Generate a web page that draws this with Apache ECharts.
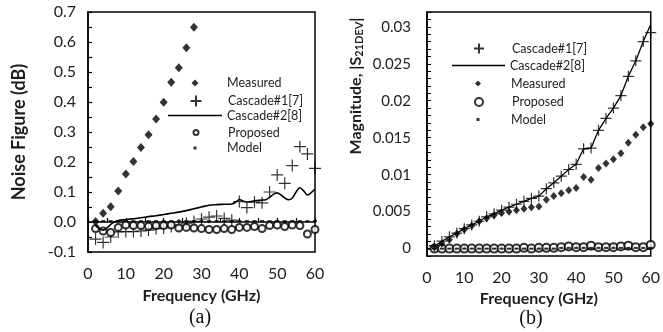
<!DOCTYPE html>
<html>
<head>
<meta charset="utf-8">
<script src="https://cdn.jsdelivr.net/npm/echarts@6/dist/echarts.min.js"></script>
<style>
html,body{margin:0;padding:0;background:#fff;}
#chart{width:663px;height:332px;}
</style>
</head>
<body>
<div id="chart"></div>
<script>
// ---------- Data: panel (a) Noise Figure (dB) ----------
var freqA = [2,4,6,8,10,12,14,16,18,20,22,24,26,28,30,32,34,36,38,40,42,44,46,48,50,52,54,56,58,60];
var measuredAFreq = [2,4,6,8,10,12,14,16,18,20,22,24,26,28];
var measuredA = [0.002,0.029,0.051,0.103,0.160,0.202,0.248,0.291,0.343,0.399,0.466,0.514,0.581,0.649];
var cascade1A = [-0.057,-0.068,-0.050,-0.033,-0.032,-0.032,-0.030,-0.027,-0.022,-0.020,-0.015,-0.010,-0.004,0.002,0.010,0.016,0.020,0.012,0.006,0.068,0.048,0.066,0.064,0.100,0.157,0.129,0.188,0.251,0.227,0.179];
var cascade2AFreq = [2,3,4,5,6,7,8,10,12,14,16,18,20,22,24,26,28,30,32,34,36,38,39,40,41,42,43,44,45,46,47,48,49,50,51,52,53,54,55,56,57,58,59,60];
var cascade2A = [-0.012,-0.022,-0.027,-0.020,-0.008,0.000,0.005,0.008,0.011,0.014,0.018,0.021,0.025,0.029,0.033,0.038,0.044,0.050,0.056,0.058,0.059,0.060,0.066,0.075,0.070,0.066,0.068,0.071,0.072,0.073,0.074,0.082,0.092,0.097,0.090,0.080,0.074,0.080,0.100,0.114,0.104,0.090,0.098,0.110];
var proposedA = [-0.022,-0.030,-0.035,-0.018,-0.010,-0.012,-0.012,-0.014,-0.012,-0.012,-0.010,-0.020,-0.018,-0.020,-0.022,-0.025,-0.025,-0.022,-0.025,-0.018,-0.018,-0.015,-0.022,-0.012,-0.010,-0.015,-0.010,-0.012,-0.040,-0.025];
var modelA = [0.003,0.003,0.003,0.003,0.003,0.003,0.003,0.003,0.003,0.003,0.003,0.003,0.003,0.003,0.003,0.003,0.003,0.003,0.003,0.003,0.003,0.003,0.003,0.003,0.003,0.003,0.003,0.003,0.003,0.003];

// ---------- Data: panel (b) Magnitude |S21DEV| ----------
var freqB = [2,4,6,8,10,12,14,16,18,20,22,24,26,28,30,32,34,36,38,40,42,44,46,48,50,52,54,56,58,60];
var cascade1B = [0.0004,0.0010,0.0016,0.0021,0.0027,0.0032,0.0037,0.0043,0.0047,0.0052,0.0056,0.0060,0.0064,0.0068,0.0071,0.0081,0.0089,0.0098,0.0107,0.0114,0.0135,0.0136,0.0160,0.0176,0.0190,0.0207,0.0233,0.0254,0.0280,0.0292];
var cascade2B = [0.0003,0.0010,0.0016,0.0021,0.0027,0.0032,0.0037,0.0043,0.0047,0.0052,0.0056,0.0060,0.0064,0.0068,0.0071,0.0081,0.0089,0.0098,0.0107,0.0114,0.0135,0.0136,0.0160,0.0176,0.0190,0.0207,0.0233,0.0254,0.0280,0.0303];
var measuredB = [0.0002,0.0007,0.0012,0.0020,0.0026,0.0031,0.0037,0.0041,0.0045,0.0048,0.0050,0.0052,0.0054,0.0056,0.0057,0.0066,0.0071,0.0075,0.0079,0.0082,0.0097,0.0093,0.0109,0.0115,0.0121,0.0129,0.0143,0.0154,0.0164,0.0169];
var proposedB = [0.0000,0.0000,0.0000,0.0000,0.0000,0.0000,0.0000,0.0000,0.0000,0.0000,0.0000,0.0000,0.0001,0.0000,0.0001,0.0001,0.0001,0.0002,0.0003,0.0002,0.0002,0.0004,0.0002,0.0002,0.0002,0.0003,0.0004,0.0002,0.0002,0.0005];
var modelB = [0.0000,0.0000,0.0000,0.0000,0.0000,0.0000,0.0000,0.0000,0.0000,0.0000,0.0000,0.0000,0.0000,0.0000,0.0000,0.0000,0.0000,0.0001,0.0001,0.0001,0.0001,0.0001,0.0001,0.0001,0.0001,0.0001,0.0001,0.0001,0.0001,0.0001];

// tick label values
var yTicksA = [-0.1,0.0,0.1,0.2,0.3,0.4,0.5,0.6,0.7];
var yTicksB = [0,0.005,0.01,0.015,0.02,0.025,0.03];
var xTicks = [0,10,20,30,40,50,60];

function pairs(xs, ys){ return ys.map(function(y,i){ return [xs[i], y]; }); }

var FONT = 'Lato';
var TXT = '#1e1e1e';
var CROSS = 'path://M0,5L10,5M5,0L5,10';
var TICKFS = 16;
var NAMEFS = 16;
var LEG_LH = 14;

function isTick(list, v){
  for (var i=0;i<list.length;i++){ if (Math.abs(list[i]-v) < 1e-9) return true; }
  return false;
}

var axisLineStyle = {lineStyle:{color:'#000', width:1.5}};

var chart = echarts.init(document.getElementById('chart'));

function markerLegend(name, cx, cy, size, textStart){
  return {
    data:[name], left: cx - size/2, top: cy - Math.max(size, LEG_LH)/2,
    itemWidth: size, itemHeight: size, padding: 0, selectedMode: false,
    textStyle:{fontFamily:FONT, fontSize:12.5, lineHeight:LEG_LH, color:TXT,
      padding:[0,0,0, textStart - (cx + size/2 + 5)]}
  };
}
function lineLegend(name, x0, w, cy){
  return {
    data:[{name:name, icon:'rect'}], left: x0, top: cy - (LEG_LH + 3)/2 - 1,
    itemWidth: w, itemHeight: 1.5, padding: 0, selectedMode: false,
    textStyle:{fontFamily:FONT, fontSize:12.5, lineHeight:LEG_LH, color:TXT, padding:[3,0,0,0]}
  };
}

var option = {
  animation: false,
  backgroundColor: '#fff',
  title: [
    {text:'(a)', left:200, top:308, textAlign:'center', padding:0,
     textStyle:{fontFamily:'Liberation Serif', fontWeight:'normal', fontSize:20, color:'#111'}},
    {text:'(b)', left:531, top:309, textAlign:'center', padding:0,
     textStyle:{fontFamily:'Liberation Serif', fontWeight:'normal', fontSize:20, color:'#111'}}
  ],
  legend: [
    markerLegend('Measured', 195, 83, 7, 227),
    markerLegend('Cascade#1[7]', 195, 101, 11, 227),
    lineLegend('Cascade#2[8]', 168, 54, 116.5),
    markerLegend('Proposed', 195, 132.5, 5, 227),
    markerLegend('Model', 195, 148, 3, 227),

    markerLegend('Cascade#1[7]', 478, 48.5, 10, 511),
    lineLegend('Cascade#2[8]', 452, 53, 66.5),
    markerLegend('Measured', 478, 83.5, 6, 511),
    markerLegend('Proposed', 478, 102, 8, 511),
    markerLegend('Model', 478, 119.5, 3, 511)
  ],
  grid: [
    {left:88, top:12, width:227, height:240, show:true, borderColor:'#000', borderWidth:1.5},
    {left:427, top:12, width:227, height:244, show:true, borderColor:'#000', borderWidth:1.5}
  ],
  xAxis: [
    {gridIndex:0, type:'value', min:0, max:60, interval:5,
     axisLine:axisLineStyle, splitLine:{show:false},
     axisTick:{inside:true, length:4, lineStyle:{color:'#000', width:1.2}},
     axisLabel:{fontFamily:FONT, fontSize:TICKFS, color:TXT, margin:14,
       formatter:function(v){ return isTick(xTicks, v) ? String(v) : ''; }},
     name:'Frequency (GHz)', nameLocation:'middle', nameGap:36,
     nameTextStyle:{fontFamily:FONT, fontWeight:'bold', fontSize:NAMEFS, color:TXT}},
    {gridIndex:1, type:'value', min:0, max:60, interval:10,
     axisLine:axisLineStyle, splitLine:{show:false},
     axisTick:{inside:true, length:4, lineStyle:{color:'#000', width:1.2}},
     axisLabel:{fontFamily:FONT, fontSize:TICKFS, color:TXT, margin:14,
       formatter:function(v){ return isTick(xTicks, v) ? String(v) : ''; }},
     name:'Frequency (GHz)', nameLocation:'middle', nameGap:34,
     nameTextStyle:{fontFamily:FONT, fontWeight:'bold', fontSize:NAMEFS, color:TXT}}
  ],
  yAxis: [
    {gridIndex:0, type:'value', min:-0.1, max:0.7, interval:0.05,
     axisLine:axisLineStyle, splitLine:{show:false},
     axisTick:{inside:true, length:4, lineStyle:{color:'#000', width:1.2}},
     axisLabel:{fontFamily:FONT, fontSize:TICKFS, color:TXT, margin:12,
       formatter:function(v){ return isTick(yTicksA, v) ? v.toFixed(1) : ''; }},
     name:'Noise Figure (dB)', nameLocation:'middle', nameGap:60,
     nameTextStyle:{fontFamily:FONT, fontWeight:'bold', fontSize:18, color:TXT}},
    {gridIndex:1, type:'value', min:-0.001, max:0.032, interval:0.001,
     axisLine:axisLineStyle, splitLine:{show:false},
     axisTick:{inside:true, length:4, lineStyle:{color:'#000', width:1}},
     axisLabel:{fontFamily:FONT, fontSize:TICKFS - 1, color:TXT, margin:16,
       formatter:function(v){ return isTick(yTicksB, v) ? String(Math.round(v*1000)/1000) : ''; }},
     name:'{n|Magnitude, |S}{s|21DEV}{n||}', nameLocation:'middle', nameGap:62,
     nameTextStyle:{padding:[0,0,0,96], rich:{
       n:{fontFamily:FONT, fontWeight:'bold', fontSize:NAMEFS, color:TXT, lineHeight:19},
       s:{fontFamily:FONT, fontWeight:'bold', fontSize:11, color:TXT, lineHeight:12, verticalAlign:'bottom'}
     }}}
  ],
  series: [
    {name:'Measured', type:'scatter', xAxisIndex:0, yAxisIndex:0, symbol:'diamond', symbolSize:[8,9],
     itemStyle:{color:'#000'}, data:pairs(measuredAFreq, measuredA)},
    {name:'Cascade#1[7]', type:'scatter', xAxisIndex:0, yAxisIndex:0, symbol:CROSS, symbolSize:12,
     itemStyle:{color:'rgba(0,0,0,0)', borderColor:'#000', borderWidth:1.2}, data:pairs(freqA, cascade1A)},
    {name:'Cascade#2[8]', type:'line', xAxisIndex:0, yAxisIndex:0, symbol:'none', smooth:0.3,
     lineStyle:{color:'#000', width:1.6}, itemStyle:{color:'#000'}, data:pairs(cascade2AFreq, cascade2A)},
    {name:'Proposed', type:'scatter', xAxisIndex:0, yAxisIndex:0, symbol:'emptyCircle', symbolSize:7,
     itemStyle:{color:'#000', borderWidth:1.1}, data:pairs(freqA, proposedA)},
    {name:'Model', type:'scatter', xAxisIndex:0, yAxisIndex:0, symbol:'rect', symbolSize:[4,2],
     itemStyle:{color:'#000'}, data:pairs(freqA, modelA)},

    {name:'Proposed', type:'scatter', xAxisIndex:1, yAxisIndex:1, symbol:'emptyCircle', symbolSize:8,
     itemStyle:{color:'#000', borderWidth:1.1}, data:pairs(freqB, proposedB)},
    {name:'Model', type:'scatter', xAxisIndex:1, yAxisIndex:1, symbol:'rect', symbolSize:[4,2],
     itemStyle:{color:'#000'}, data:pairs(freqB, modelB)},
    {name:'Cascade#2[8]', type:'line', xAxisIndex:1, yAxisIndex:1, symbol:'none',
     lineStyle:{color:'#000', width:1.3}, itemStyle:{color:'#000'}, data:pairs(freqB, cascade2B)},
    {name:'Cascade#1[7]', type:'scatter', xAxisIndex:1, yAxisIndex:1, symbol:CROSS, symbolSize:11,
     itemStyle:{color:'rgba(0,0,0,0)', borderColor:'#000', borderWidth:1.2}, data:pairs(freqB, cascade1B)},
    {name:'Measured', type:'scatter', xAxisIndex:1, yAxisIndex:1, symbol:'diamond', symbolSize:[7,8],
     itemStyle:{color:'#000'}, data:pairs(freqB, measuredB)}
  ]
};
chart.setOption(option);
</script>
</body>
</html>
